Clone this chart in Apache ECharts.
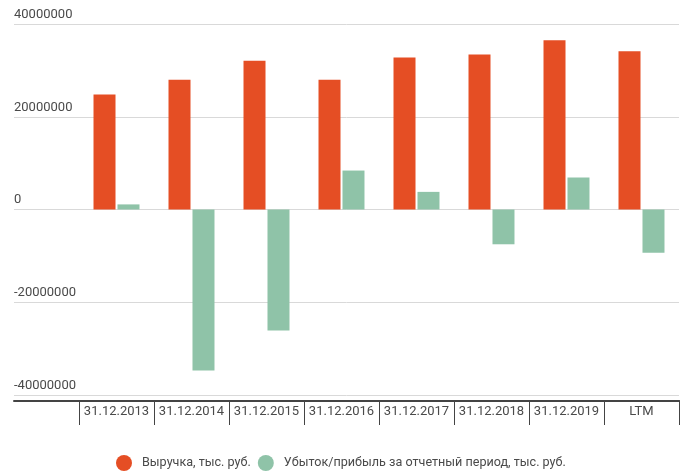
<!DOCTYPE html>
<html>
<head>
<meta charset="utf-8">
<script src="https://cdn.jsdelivr.net/npm/echarts@6/dist/echarts.min.js"></script>
<style>html,body{margin:0;padding:0;background:#fff;}#c{width:692px;height:472px;}</style>
</head>
<body>
<div id="c"></div>
<script>
const categories = ['31.12.2013','31.12.2014','31.12.2015','31.12.2016','31.12.2017','31.12.2018','31.12.2019','LTM'];
const revenue = [24800000, 28000000, 32100000, 28000000, 32800000, 33400000, 36500000, 34100000];
const profit = [1100000, -34700000, -26100000, 8400000, 3800000, -7500000, 6900000, -9300000];
const seriesNames = ['Выручка, тыс. руб.', 'Убыток/прибыль за отчетный период, тыс. руб.'];
const yTicks = [-40000000, -20000000, 0, 20000000, 40000000];

const font = 'Roboto';
const textColor = '#4a4a4a';
const yMin = yTicks[0], yMax = yTicks[yTicks.length-1], yInt = yTicks[1]-yTicks[0];

const chart = echarts.init(document.getElementById('c'), null, {renderer:'canvas'});
chart.setOption({
  backgroundColor: '#ffffff',
  animation: false,
  textStyle: {fontFamily: font},
  grid: [
    {left: 79, right: 13, top: 24, bottom: 77},
    {left: 14, right: 13, top: 24, bottom: 77}
  ],
  xAxis: [
    {
      type: 'category', gridIndex: 0, data: categories, position: 'bottom', offset: 6,
      boundaryGap: true,
      axisLine: {show: true, onZero: false, lineStyle: {color: '#444', width: 2}},
      axisTick: {show: true, length: 24, lineStyle: {color: '#444', width: 1}},
      axisLabel: {color: textColor, fontSize: 13, fontFamily: font, margin: 4, interval: 0}
    },
    {
      type: 'value', gridIndex: 1, min: 0, max: 1, position: 'bottom', offset: 6,
      axisLine: {show: true, onZero: false, lineStyle: {color: '#444', width: 2}},
      axisTick: {show: false}, axisLabel: {show: false}, splitLine: {show: false}
    }
  ],
  yAxis: [
    {type: 'value', gridIndex: 0, min: yMin, max: yMax, interval: yInt, show: false, splitLine: {show: false}},
    {
      type: 'value', gridIndex: 1, min: yMin, max: yMax, interval: yInt,
      axisLine: {show: false}, axisTick: {show: false},
      splitLine: {show: true, lineStyle: {color: '#d9d9d9', width: 1}},
      axisLabel: {
        inside: true, margin: 0, align: 'left', verticalAlign: 'bottom',
        padding: [0, 0, 3, 0],
        color: textColor, fontSize: 13, fontFamily: font,
        formatter: v => String(v)
      }
    }
  ],
  legend: {
    data: seriesNames,
    left: 111, top: 450,
    icon: 'circle', itemWidth: 26, itemHeight: 16, itemGap: 7,
    textStyle: {color: textColor, fontSize: 12.6, fontFamily: font}
  },
  series: [
    {
      name: seriesNames[0], type: 'bar', xAxisIndex: 0, yAxisIndex: 0,
      data: revenue, barWidth: 22, barGap: '9%',
      itemStyle: {color: '#e54e24'}
    },
    {
      name: seriesNames[1], type: 'bar', xAxisIndex: 0, yAxisIndex: 0,
      data: profit, barWidth: 22, barGap: '9%',
      itemStyle: {color: '#8fc3a8'}
    }
  ]
});
</script>
</body>
</html>
